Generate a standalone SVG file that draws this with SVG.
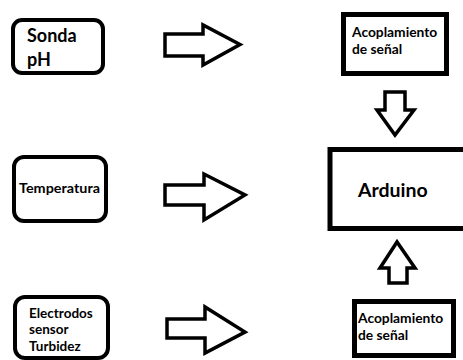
<svg xmlns="http://www.w3.org/2000/svg" width="463" height="360" viewBox="0 0 463 360">
<style>
.box{fill:#fff;stroke:#000}
.arr{fill:#fff;stroke:#000;stroke-width:3.5;stroke-linejoin:miter}
text{font-family:Lato,"Open Sans","Liberation Sans",sans-serif;font-weight:bold;fill:#000}
.ac{font-size:13.8px}
.el{font-size:13.5px}
</style>
<rect width="463" height="360" fill="#fff"/>
<g id="sonda">
<rect class="box" x="13" y="20" width="90" height="53" rx="9" stroke-width="4"/>
<text x="27" y="42" font-size="18">Sonda</text>
<text x="27" y="66" font-size="18">pH</text>
</g>
<g id="temperatura">
<rect class="box" x="14" y="157" width="92" height="64" rx="10" stroke-width="4"/>
<text x="19" y="193" font-size="13" textLength="81" lengthAdjust="spacingAndGlyphs">Temperatura</text>
</g>
<g id="electrodos">
<rect class="box" x="15" y="297" width="93" height="61" rx="10" stroke-width="4"/>
<text class="el" x="29" y="318">Electrodos</text>
<text class="el" x="29" y="334">sensor</text>
<text class="el" x="29" y="351">Turbidez</text>
</g>
<g id="acople1">
<rect class="box" x="343.5" y="14.5" width="103" height="59" stroke-width="5"/>
<text class="ac" x="352" y="37">Acoplamiento</text>
<text class="ac" x="352" y="54">de señal</text>
</g>
<g id="arduino">
<rect class="box" x="330" y="149.5" width="150" height="79" stroke-width="5"/>
<text x="358" y="197" font-size="19.5">Arduino</text>
</g>
<g id="acople2">
<rect class="box" x="354.5" y="301.5" width="99" height="54" stroke-width="5"/>
<text class="ac" x="358" y="323">Acoplamiento</text>
<text class="ac" x="358" y="340">de señal</text>
</g>
<g id="connectors">
<polygon class="arr" points="165,34 203,34 203,25 240,44.5 203,65 203,56 165,56"/>
<polygon class="arr" points="165,185 204,185 204,174 245,195 204,220 204,205 165,205"/>
<polygon class="arr" points="167,319 205,319 205,307 245,332 205,353 205,338 167,338"/>
<polygon class="arr" points="385,92 405,92 405,110 414,110 395,135 377,110 385,110"/>
<polygon class="arr" points="389,283 407,283 407,268 415,268 397,242 380,268 389,268"/>
</g>
</svg>
